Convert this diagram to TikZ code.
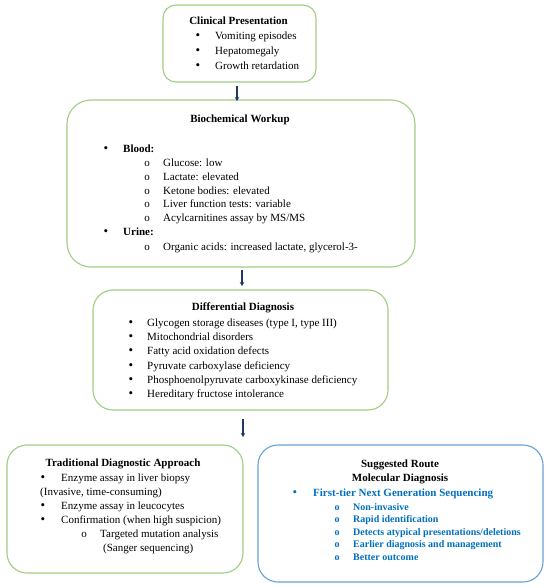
\documentclass[tikz,border=0pt]{standalone}
\usepackage{fontspec}
\setmainfont{Liberation Serif}
\usetikzlibrary{arrows.meta}
\definecolor{boxgreen}{RGB}{160,205,130}
\definecolor{boxblue}{RGB}{105,160,215}
\definecolor{txtblue}{RGB}{0,112,192}
\definecolor{arrowcol}{RGB}{31,56,100}
\tikzset{
  gbox/.style={draw=boxgreen,line width=1.1pt,fill=white},
  bbox/.style={draw=boxblue,line width=1.1pt,fill=white},
  ln/.style={anchor=base west,inner sep=0pt,font=\fontsize{11}{13}\selectfont},
  ttl/.style={anchor=base,inner sep=0pt,font=\fontsize{11}{13}\selectfont\bfseries},
  bl/.style={anchor=base,inner sep=0pt,font=\fontsize{13}{13}\selectfont},
  sb/.style={anchor=base,inner sep=0pt,font=\fontsize{11}{13}\selectfont},
  bln/.style={ln,text=txtblue,font=\fontsize{11}{13}\selectfont\bfseries},
  blsub/.style={ln,text=txtblue,font=\fontsize{10}{12}\selectfont\bfseries},
  blo/.style={sb,text=txtblue,font=\fontsize{10}{12}\selectfont\bfseries},
  arr/.style={draw=arrowcol,line width=1.4pt,-{Stealth[length=4pt,width=4.5pt]}}
}
\begin{document}
\begin{tikzpicture}[x=1pt,y=-1pt]
\useasboundingbox (0,0) rectangle (550,588);
% boxes
\draw[gbox,rounded corners=13pt] (163,5) rectangle (316,82);
\node[inner sep=0pt,minimum width=153pt,minimum height=77pt] (b1) at (239.5,43.5) {};
\draw[gbox,rounded corners=24pt] (67,100) rectangle (415,267);
\node[inner sep=0pt,minimum width=348pt,minimum height=167pt] (b2) at (241,183.5) {};
\draw[gbox,rounded corners=20pt] (93,290) rectangle (388,410);
\node[inner sep=0pt,minimum width=295pt,minimum height=120pt] (b3) at (240.5,350) {};
\draw[gbox,rounded corners=20pt] (7,445) rectangle (243,573);
\node[inner sep=0pt,minimum width=236pt,minimum height=128pt] (b4) at (125,509) {};
\draw[bbox,rounded corners=20pt] (258,445) rectangle (543,582);
\node[inner sep=0pt,minimum width=285pt,minimum height=137pt] (b5) at (400.5,513.5) {};
% arrows
\coordinate (a1s) at (237,86); \coordinate (a1e) at (237,101);
\coordinate (a2s) at (242,270); \coordinate (a2e) at (242,286);
\coordinate (a3s) at (243,419); \coordinate (a3e) at (243,437);
\draw[arr] (a1s) -- (a1e);
\draw[arr] (a2s) -- (a2e);
\draw[arr] (a3s) -- (a3e);
% box 1
\node[ttl] (t1) at (238.5,24.5) {Clinical Presentation};
\node[bl] (t1b1) at (198,40) {•}; \node[ln] (t1l1) at (215,40) {Vomiting episodes};
\node[bl] (t1b2) at (198,55) {•}; \node[ln] (t1l2) at (215,55) {Hepatomegaly};
\node[bl] (t1b3) at (198,70) {•}; \node[ln] (t1l3) at (215,70) {Growth retardation};
% box 2
\node[ttl] (t2) at (240,122.5) {Biochemical Workup};
\node[bl] (t2b1) at (106,152.5) {•}; \node[ln,font=\fontsize{11}{13}\selectfont\bfseries] (t2l1) at (123,152.5) {Blood:};
\node[sb] (t2o1) at (147,166.5) {o}; \node[ln] (t2l2) at (163,166.5) {Glucose: low};
\node[sb] (t2o2) at (147,180.5) {o}; \node[ln] (t2l3) at (163,180.5) {Lactate: elevated};
\node[sb] (t2o3) at (147,194.5) {o}; \node[ln] (t2l4) at (163,194.5) {Ketone bodies: elevated};
\node[sb] (t2o4) at (147,207.5) {o}; \node[ln] (t2l5) at (163,207.5) {Liver function tests: variable};
\node[sb] (t2o5) at (147,221.5) {o}; \node[ln] (t2l6) at (163,221.5) {Acylcarnitines assay by MS/MS};
\node[bl] (t2b2) at (106,235.5) {•}; \node[ln,font=\fontsize{11}{13}\selectfont\bfseries] (t2l7) at (123,235.5) {Urine:};
\node[sb] (t2o6) at (147,250.5) {o}; \node[ln] (t2l8) at (163,250.5) {Organic acids: increased lactate, glycerol-3-};
% box 3
\node[ttl] (t3) at (243,310.5) {Differential Diagnosis};
\node[bl] (t3b1) at (131,326.5) {•}; \node[ln] (t3l1) at (147,326.5) {Glycogen storage diseases (type I, type III)};
\node[bl] (t3b2) at (131,340.5) {•}; \node[ln] (t3l2) at (147,340.5) {Mitochondrial disorders};
\node[bl] (t3b3) at (131,354.5) {•}; \node[ln] (t3l3) at (147,354.5) {Fatty acid oxidation defects};
\node[bl] (t3b4) at (131,369) {•}; \node[ln] (t3l4) at (147,369) {Pyruvate carboxylase deficiency};
\node[bl] (t3b5) at (131,383) {•}; \node[ln] (t3l5) at (147,383) {Phosphoenolpyruvate carboxykinase deficiency};
\node[bl] (t3b6) at (131,397.5) {•}; \node[ln] (t3l6) at (147,397.5) {Hereditary fructose intolerance};
% box 4
\node[ttl] (t4) at (123,466.5) {Traditional Diagnostic Approach};
\node[bl] (t4b1) at (43,481.5) {•}; \node[ln] (t4l1) at (61,481.5) {Enzyme assay in liver biopsy};
\node[ln] (t4l2) at (40,495.5) {(Invasive, time-consuming)};
\node[bl] (t4b2) at (43,509.5) {•}; \node[ln] (t4l3) at (61,509.5) {Enzyme assay in leucocytes};
\node[bl] (t4b3) at (43,523.5) {•}; \node[ln] (t4l4) at (61,523.5) {Confirmation (when high suspicion)};
\node[sb] (t4o1) at (84,537.5) {o}; \node[ln] (t4l5) at (100,537.5) {Targeted mutation analysis};
\node[ln] (t4l6) at (103,551.5) {(Sanger sequencing)};
% box 5
\node[ttl] (t5a) at (400,467.5) {Suggested Route};
\node[ttl] (t5b) at (400,481.5) {Molecular Diagnosis};
\node[bl,text=txtblue] (t5bu) at (295,496.5) {•}; \node[bln] (t5l1) at (313,496.5) {First-tier Next Generation Sequencing};
\node[blo] (t5o1) at (337,510) {o}; \node[blsub] (t5l2) at (353,510) {Non-invasive};
\node[blo] (t5o2) at (337,522.5) {o}; \node[blsub] (t5l3) at (353,522.5) {Rapid identification};
\node[blo] (t5o3) at (337,535) {o}; \node[blsub] (t5l4) at (353,535) {Detects atypical presentations/deletions};
\node[blo] (t5o4) at (337,547.5) {o}; \node[blsub] (t5l5) at (353,547.5) {Earlier diagnosis and management};
\node[blo] (t5o5) at (337,560) {o}; \node[blsub] (t5l6) at (353,560) {Better outcome};
\end{tikzpicture}
\end{document}
